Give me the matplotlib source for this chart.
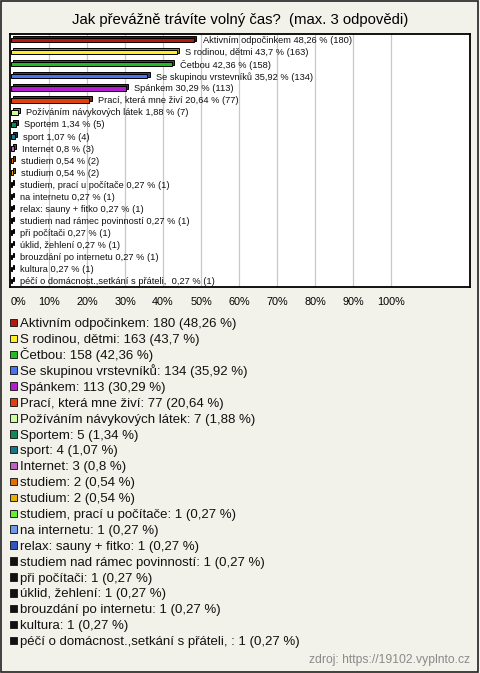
import matplotlib
matplotlib.use("Agg")
import matplotlib.pyplot as plt
from matplotlib.patches import Rectangle
from matplotlib.colors import to_rgb

plt.rcParams['font.family'] = ['Liberation Sans', 'DejaVu Sans']

title = "Jak převážně trávíte volný čas?  (max. 3 odpovědi)"
categories = [
    "Aktivním odpočinkem", "S rodinou, dětmi", "Četbou", "Se skupinou vrstevníků",
    "Spánkem", "Prací, která mne živí", "Požíváním návykových látek", "Sportem",
    "sport", "Internet", "studiem", "studium", "studiem, prací u počítače",
    "na internetu", "relax: sauny + fitko", "studiem nad rámec povinností",
    "při počítači", "úklid, žehlení", "brouzdání po internetu", "kultura",
    "péčí o domácnost.,setkání s přáteli, ",
]
counts = [180, 163, 158, 134, 113, 77, 7, 5, 4, 3, 2, 2, 1, 1, 1, 1, 1, 1, 1, 1, 1]
percents = [48.26, 43.7, 42.36, 35.92, 30.29, 20.64, 1.88, 1.34, 1.07, 0.8, 0.54, 0.54,
            0.27, 0.27, 0.27, 0.27, 0.27, 0.27, 0.27, 0.27, 0.27]
colors = ["#b31c0c", "#ffee22", "#22bb22", "#4c74f0", "#b41cd0", "#e04010", "#ccff99",
          "#10885a", "#15778a", "#c060c0", "#e07000", "#e8b000", "#66ee33", "#6f9ae8",
          "#2f55c0", "#111111", "#111111", "#111111", "#111111", "#111111", "#111111"]
xticks = [0, 10, 20, 30, 40, 50, 60, 70, 80, 90, 100]
source = "zdroj: https://19102.vyplnto.cz"

W, H = 480, 673
BG = "#f3f2ea"


def fmt(p):
    return format(p, 'g').replace('.', ',')


def fy(px):
    return 1 - px / H


fig = plt.figure(figsize=(W / 100, H / 100), dpi=100, facecolor=BG)
fig.patches.append(Rectangle((0.5 / W, 1.5 / H), (W - 2.5) / W, (H - 2.5) / H,
                             transform=fig.transFigure, fill=False,
                             edgecolor="#222222", lw=1.2))

fig.text(0.5, fy(20), title, ha='center', va='center', fontsize=10.7)

ax = fig.add_axes([10 / W, fy(287), 460 / W, 253 / H])
ax.set_facecolor('white')
for s in ax.spines.values():
    s.set_color('black')
    s.set_linewidth(1.3)
ax.set_xlim(-0.26, 120.8)
ax.set_ylim(len(categories) - 0.5, -0.5)
ax.set_xticks(xticks)
ax.set_xticklabels([f"{t}%" for t in xticks], fontsize=7.8)
ax.get_xticklabels()[0].set_horizontalalignment('left')
ax.tick_params(axis='x', length=0, pad=7)
ax.set_yticks([])
for t in xticks[1:]:
    ax.axvline(t, color='#c8c8c8', lw=0.9, zorder=0)

ys = list(range(len(categories)))
dark = [tuple(c * 0.55 for c in to_rgb(col)) for col in colors]
h = 0.38
dx, dy = 0.55, 0.15
ax.barh([y - dy for y in ys], percents, left=dx, height=h, color=dark,
        edgecolor='black', lw=0.7, zorder=2)
ax.barh(ys, percents, height=h, color=colors, edgecolor='black', lw=0.7, zorder=3)
for y, name, p, c in zip(ys, categories, percents, counts):
    ax.text(p + 2.2, y + 0.05, f"{name} {fmt(p)} % ({c})", va='center', ha='left',
            fontsize=6.65, color='#111111', zorder=4)

# legend (manual rows with fixed spacing)
row0, step = 322.5, 15.9
sq = 7.5
for i, (n, c, p, col) in enumerate(zip(categories, counts, percents, colors)):
    yc = row0 + i * step
    fig.patches.append(Rectangle((9.5 / W, fy(yc + sq / 2)), sq / W, sq / H,
                                 transform=fig.transFigure, facecolor=col,
                                 edgecolor='#222222', lw=0.7))
    fig.text(20 / W, fy(yc + 4.7), f"{n}: {c} ({fmt(p)} %)", ha='left',
             va='baseline', fontsize=9.5, color='#111111')

fig.text(470 / W, fy(660), source, ha='right', va='center', fontsize=8.7,
         color='#8a8a8a')

fig.savefig("out.png", dpi=100, facecolor=BG)
